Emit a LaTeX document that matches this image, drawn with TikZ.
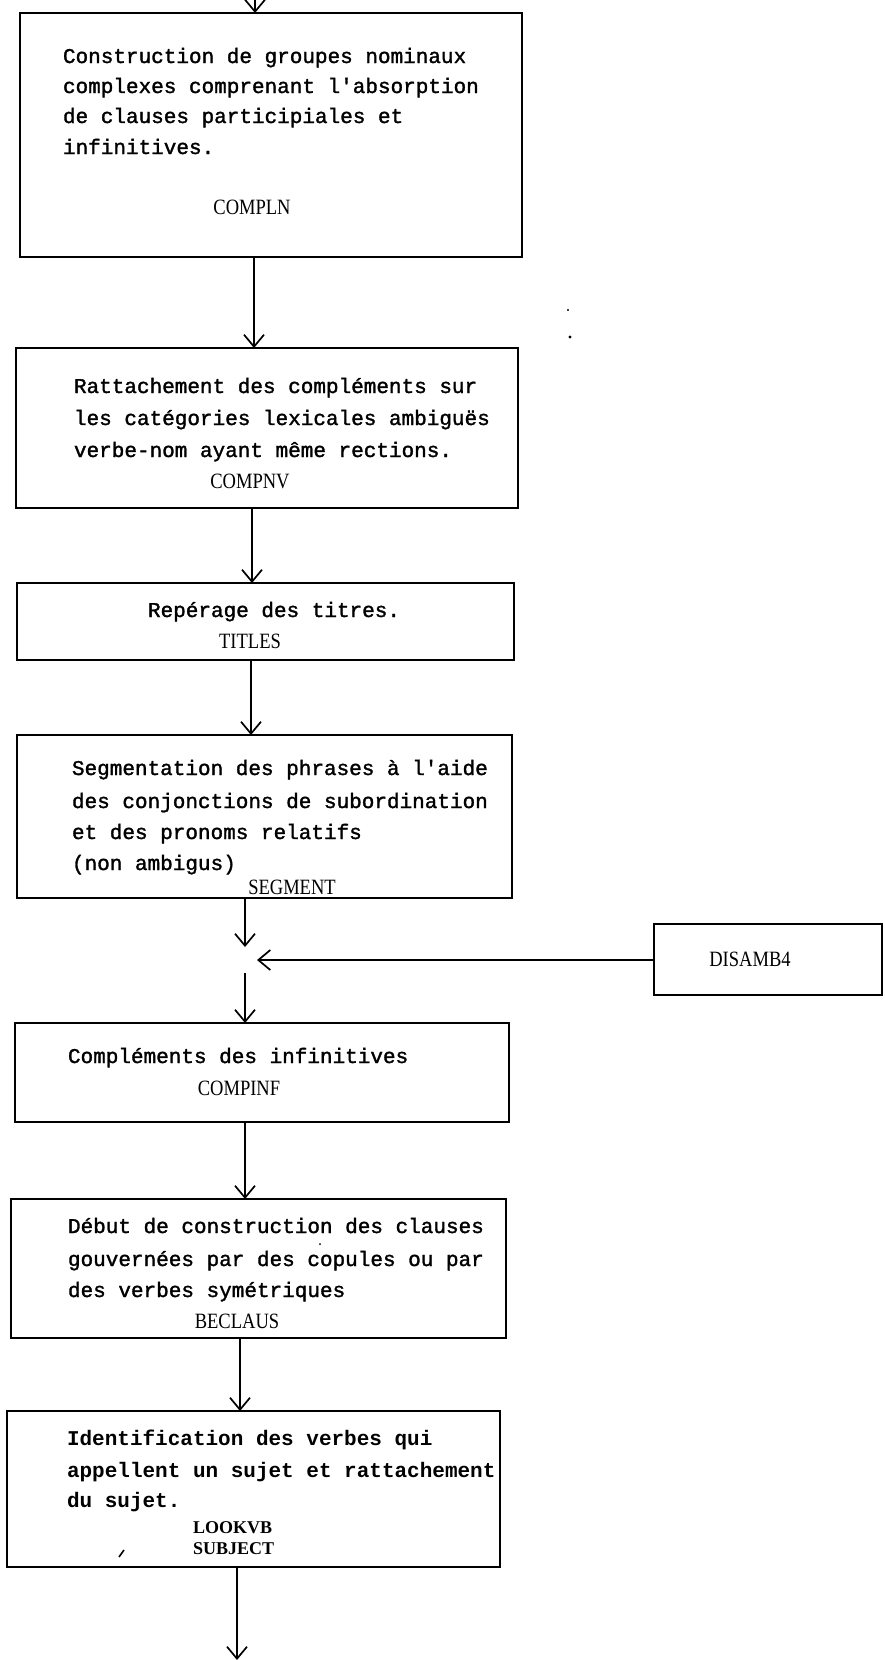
\documentclass[tikz,border=0pt]{standalone}
\usepackage{fontspec}
\usetikzlibrary{arrows.meta}
\newfontfamily\twfont[FakeBold=1.5]{Liberation Mono}
\newfontfamily\twbfont{Liberation Mono Bold}
\newfontfamily\labfont{Liberation Serif}
\newcommand{\tall}[1]{\scalebox{0.95}[1.12]{#1}}
\begin{document}
\begin{tikzpicture}[x=1pt,y=-1pt,
  box/.style={draw, line width=1.7pt, rectangle, inner sep=0pt, outer sep=0pt},
  arr/.style={line width=1.7pt, -{Straight Barb[length=12pt,width=20pt,line width=1.7pt]}},
  txt/.style={inner sep=0pt, outer sep=0pt, anchor=base west, font=\twfont\fontsize{21}{22}\selectfont},
  txtb/.style={txt, font=\twbfont\fontsize{21}{22}\selectfont},
  lab/.style={inner sep=0pt, outer sep=0pt, anchor=base, font=\labfont\fontsize{19.5}{20}\selectfont},
  labb/.style={lab, anchor=base west, font=\labfont\bfseries\fontsize{18}{18}\selectfont}]
\useasboundingbox (0,0) rectangle (884,1660);
% boxes
\node[box, minimum width=502pt, minimum height=244pt] (b1) at (271,135) {};
\node[box, minimum width=502pt, minimum height=160pt] (b2) at (267,428) {};
\node[box, minimum width=497pt, minimum height=77pt] (b3) at (265.5,621.5) {};
\node[box, minimum width=495pt, minimum height=163pt] (b4) at (264.5,816.5) {};
\node[box, minimum width=228pt, minimum height=71pt] (dis) at (768,959.5) {};
\node[box, minimum width=494pt, minimum height=99pt] (b5) at (262,1072.5) {};
\node[box, minimum width=495pt, minimum height=139pt] (b6) at (258.5,1268.5) {};
\node[box, minimum width=493pt, minimum height=156pt] (b7) at (253.5,1489) {};
% texts
\node[txt] (t1a) at (63,63) {Construction de groupes nominaux};
\node[txt] (t1b) at (63,93) {complexes comprenant l'absorption};
\node[txt] (t1c) at (63,123) {de clauses participiales et};
\node[txt] (t1d) at (63,154) {infinitives.};
\node[lab] (l1) at (252,214) {\tall{COMPLN}};
\node[txt] (t2a) at (74,393) {Rattachement des compléments sur};
\node[txt] (t2b) at (74,425) {les catégories lexicales ambiguës};
\node[txt] (t2c) at (74,457) {verbe-nom ayant même rections.};
\node[lab] (l2) at (250,488) {\tall{COMPNV}};
\node[txt] (t3a) at (148,617) {Repérage des titres.};
\node[lab] (l3) at (250,648) {\tall{TITLES}};
\node[txt] (t4a) at (72,775) {Segmentation des phrases à l'aide};
\node[txt] (t4b) at (72,808) {des conjonctions de subordination};
\node[txt] (t4c) at (72,839) {et des pronoms relatifs};
\node[txt] (t4d) at (72,870) {(non ambigus)};
\node[lab] (l4) at (292,894) {\tall{SEGMENT}};
\node[lab] (ld) at (750,966) {\tall{DISAMB4}};
\node[txt] (t5a) at (68,1063) {Compléments des infinitives};
\node[lab] (l5) at (239,1095) {\tall{COMPINF}};
\node[txt] (t6a) at (68,1233) {Début de construction des clauses};
\node[txt] (t6b) at (68,1266) {gouvernées par des copules ou par};
\node[txt] (t6c) at (68,1297) {des verbes symétriques};
\node[lab] (l6) at (237,1328) {\tall{BECLAUS}};
\node[txtb] (t7a) at (67,1445) {Identification des verbes qui};
\node[txtb] (t7b) at (67,1477) {appellent un sujet et rattachement};
\node[txtb] (t7c) at (67,1507) {du sujet.};
\node[labb] (l7a) at (193,1533) {LOOKVB};
\node[labb] (l7b) at (193,1554) {SUBJECT};
% connector columns
\coordinate (c0) at (255,0);
\coordinate (c1) at (254,0);
\coordinate (c2) at (252,0);
\coordinate (c3) at (251,0);
\coordinate (j1) at (245,947);
\coordinate (j2) at (257,960);
\coordinate (j3) at (245,973);
\coordinate (c5) at (245,0);
\coordinate (c6) at (240,0);
\coordinate (c7) at (237,1660);
% connectors
\draw[arr] (c0) -- (b1.north -| c0);
\draw[arr] (b1.south -| c1) -- (b2.north -| c1);
\draw[arr] (b2.south -| c2) -- (b3.north -| c2);
\draw[arr] (b3.south -| c3) -- (b4.north -| c3);
\draw[arr] (b4.south -| j1) -- (j1);
\draw[arr] (dis.west |- j2) -- (j2);
\draw[arr] (j3) -- (b5.north -| j3);
\draw[arr] (b5.south -| c5) -- (b6.north -| c5);
\draw[arr] (b6.south -| c6) -- (b7.north -| c6);
\draw[arr] (b7.south -| c7) -- (c7);
% stray marks of the original
\fill (568,310) circle (1.2pt);
\fill (570,337) circle (1.6pt);
\fill (320,1244) circle (1pt);
\draw[line width=1.6pt] (119,1557) -- (124,1550);
\end{tikzpicture}
\end{document}
